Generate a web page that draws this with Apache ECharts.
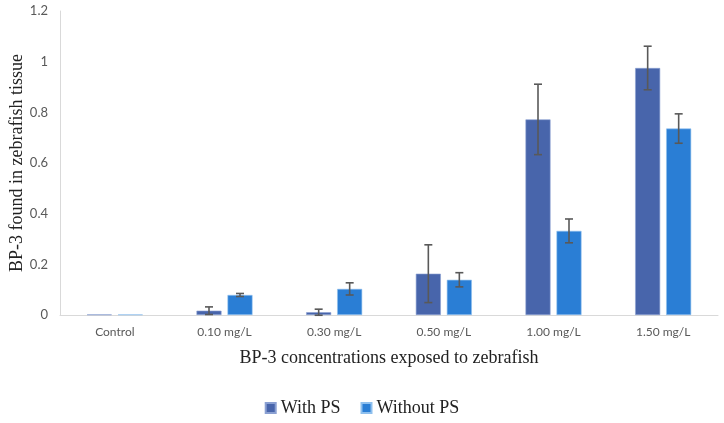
<!DOCTYPE html>
<html>
<head>
<meta charset="utf-8">
<script src="https://cdn.jsdelivr.net/npm/echarts@6/dist/echarts.min.js"></script>
</head>
<body style="margin:0">
<div id="main" style="width:724px;height:423px"></div>
<script>
// 数据
const categories = ["Control", "0.10 mg/L", "0.30 mg/L", "0.50 mg/L", "1.00 mg/L", "1.50 mg/L"];
const withPS = [0.002, 0.017, 0.011, 0.163, 0.772, 0.975];
const withPSErr = [0, 0.015, 0.012, 0.114, 0.139, 0.086];
const withoutPS = [0.002, 0.079, 0.103, 0.139, 0.332, 0.736];
const withoutPSErr = [0, 0.006, 0.024, 0.028, 0.047, 0.058];

const BAR_W = 25;
const GAP = 6;
const serif = "Liberation Serif";
const sans = "Lato";

// 误差线
function errorSeries(values, errs, offset) {
  return {
    type: "custom",
    z: 10,
    silent: true,
    data: values.map((v, i) => [i, v - errs[i], v + errs[i], errs[i]]),
    renderItem: function (params, api) {
      if (api.value(3) === 0) return null;
      const lo = api.coord([api.value(0), api.value(1)]);
      const hi = api.coord([api.value(0), api.value(2)]);
      const x = lo[0] + offset;
      const cap = 4;
      const style = { stroke: "#595959", lineWidth: 1.6 };
      return {
        type: "group",
        children: [
          { type: "line", shape: { x1: x, y1: hi[1], x2: x, y2: lo[1] }, style: style },
          { type: "line", shape: { x1: x - cap, y1: hi[1], x2: x + cap, y2: hi[1] }, style: style },
          { type: "line", shape: { x1: x - cap, y1: lo[1], x2: x + cap, y2: lo[1] }, style: style },
        ],
      };
    },
  };
}

const chart = echarts.init(document.getElementById("main"));
chart.setOption({
  animation: false,
  grid: { left: 60, right: 6, top: 11, bottom: 108, outerBoundsMode: "none" },
  legend: {
    bottom: 1,
    left: "center",
    itemWidth: 10,
    itemHeight: 10,
    itemGap: 20,
    icon: "rect",
    data: ["With PS", "Without PS"],
    textStyle: { fontFamily: serif, fontSize: 18, color: "#222" },
  },
  xAxis: {
    type: "category",
    data: categories,
    name: "BP-3 concentrations exposed to zebrafish",
    nameLocation: "middle",
    nameGap: 34,
    nameMoveOverlap: false,
    nameTextStyle: { fontFamily: serif, fontSize: 18, color: "#222" },
    axisLine: { lineStyle: { color: "#d9d9d9" } },
    axisTick: { show: false },
    axisLabel: { fontFamily: sans, fontSize: 12, color: "#595959", margin: 11 },
  },
  yAxis: {
    type: "value",
    min: 0,
    max: 1.2,
    interval: 0.2,
    name: "BP-3 found in zebrafish tissue",
    nameLocation: "middle",
    nameGap: 34,
    nameMoveOverlap: false,
    nameTextStyle: { fontFamily: serif, fontSize: 18, color: "#222" },
    axisLine: { show: true, lineStyle: { color: "#d9d9d9" } },
    axisTick: { show: false },
    splitLine: { show: false },
    axisLabel: { fontFamily: sans, fontSize: 13, color: "#595959", margin: 12 },
  },
  series: [
    {
      name: "With PS",
      type: "bar",
      data: withPS,
      barWidth: BAR_W,
      barGap: (GAP / BAR_W * 100) + "%",
      itemStyle: { color: "#4865ab", borderColor: "#8aa0d2", borderWidth: 0.6 },
    },
    {
      name: "Without PS",
      type: "bar",
      data: withoutPS,
      barWidth: BAR_W,
      itemStyle: { color: "#2a7ed5", borderColor: "#8fc0ee", borderWidth: 0.6 },
    },
    errorSeries(withPS, withPSErr, -(BAR_W + GAP) / 2),
    errorSeries(withoutPS, withoutPSErr, (BAR_W + GAP) / 2),
  ],
});
</script>
</body>
</html>
